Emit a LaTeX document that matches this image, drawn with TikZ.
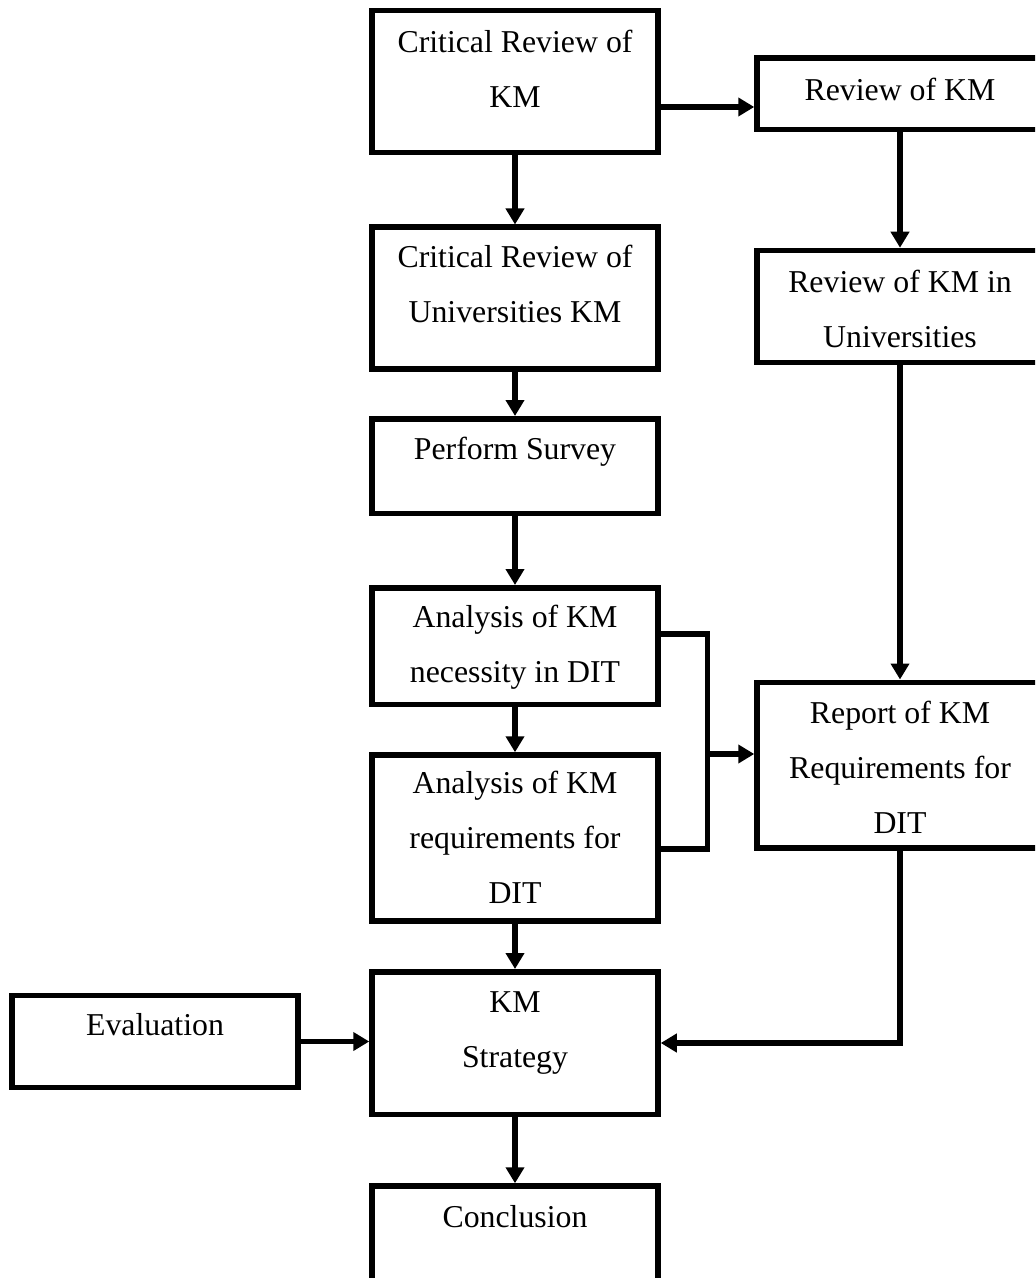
\documentclass[tikz,border=0pt]{standalone}
\usepackage{fontspec}
\setmainfont{Liberation Serif}
\usetikzlibrary{arrows.meta}
% first-line strut: fixes the height above the first baseline
\newcommand\firstln{\rule{0pt}{20pt}}
\begin{document}
\begin{tikzpicture}[x=0.5pt,y=-0.5pt,
  box/.style={draw, line width=2.75pt, minimum width=143pt, inner sep=0pt},
  txt/.style={align=center, inner sep=0pt, anchor=north,
              font=\fontsize{15.9pt}{27.5pt}\selectfont},
  flow/.style={line width=2.75pt, -{Triangle[length=8pt,width=9pt]}},
  link/.style={line width=2.75pt}]
\useasboundingbox (0,0) rectangle (1035,1278);
\clip (0,0) rectangle (1035,1278);

% ---- main column ----
\node[box, minimum height=71pt]    (crit)  at (515,81.5)  {};
\node[box, minimum height=70.75pt] (critu) at (515,298)   {};
\node[box, minimum height=47.25pt] (surv)  at (515,466)   {};
\node[box, minimum height=58.25pt] (necs)  at (515,646)   {};
\node[box, minimum height=83pt]    (reqs)  at (515,838)   {};
\node[box, minimum height=71.25pt] (strat) at (515,1043)  {};
\node[box, minimum height=72pt]    (concl) at (515,1258)  {};

% ---- right column ----
\node[box, minimum height=35.75pt] (rev)   at (900,94)    {};
\node[box, minimum height=56pt]    (revu)  at (900,306.5) {};
\node[box, minimum height=82.75pt] (rep)   at (900,765)   {};

% ---- left side ----
\node[box, minimum height=46pt]    (eval)  at (155,1041.5) {};

% ---- texts ----
\node[txt] (crit-t)  at (515,12)   {\firstln Critical Review of\\KM};
\node[txt] (critu-t) at (515,227)  {\firstln Critical Review of\\Universities KM};
\node[txt] (surv-t)  at (515,419)  {\firstln Perform Survey};
\node[txt] (necs-t)  at (515,587)  {\firstln Analysis of KM\\necessity in DIT};
\node[txt] (reqs-t)  at (515,753)  {\firstln Analysis of KM\\requirements for\\DIT};
\node[txt] (strat-t) at (515,972)  {\firstln KM\\Strategy};
\node[txt] (concl-t) at (515,1187) {\firstln Conclusion};
\node[txt] (rev-t)   at (900,60)   {\firstln Review of KM};
\node[txt] (revu-t)  at (900,252)  {\firstln Review of KM in\\Universities};
\node[txt] (rep-t)   at (900,683)  {\firstln Report of KM\\Requirements for\\DIT};
\node[txt] (eval-t)  at (155,995)  {\firstln Evaluation};

% ---- connector levels ----
\coordinate (ya) at (0,107);
\coordinate (yb) at (0,634);
\coordinate (yc) at (0,849);
\coordinate (ym) at (0,754);
\coordinate (bx) at (707.5,0);

% ---- connectors ----
\draw[flow] (crit.south)  -- (critu.north);
\draw[flow] (critu.south) -- (surv.north);
\draw[flow] (surv.south)  -- (necs.north);
\draw[flow] (necs.south)  -- (reqs.north);
\draw[flow] (reqs.south)  -- (strat.north);
\draw[flow] (strat.south) -- (concl.north);

\draw[flow] (crit.east |- ya) -- (rev.west |- ya);
\draw[flow] (rev.south)  -- (revu.north);
\draw[flow] (revu.south) -- (rep.north);

\draw[link] (necs.east |- yb) -- (bx |- yb) -- (bx |- yc) -- (reqs.east |- yc);
\draw[flow] (bx |- ym) -- (rep.west |- ym);

\draw[flow] (rep.south) |- (strat.east);
\draw[flow] (eval.east) -- (eval.east -| strat.west);
\end{tikzpicture}
\end{document}
